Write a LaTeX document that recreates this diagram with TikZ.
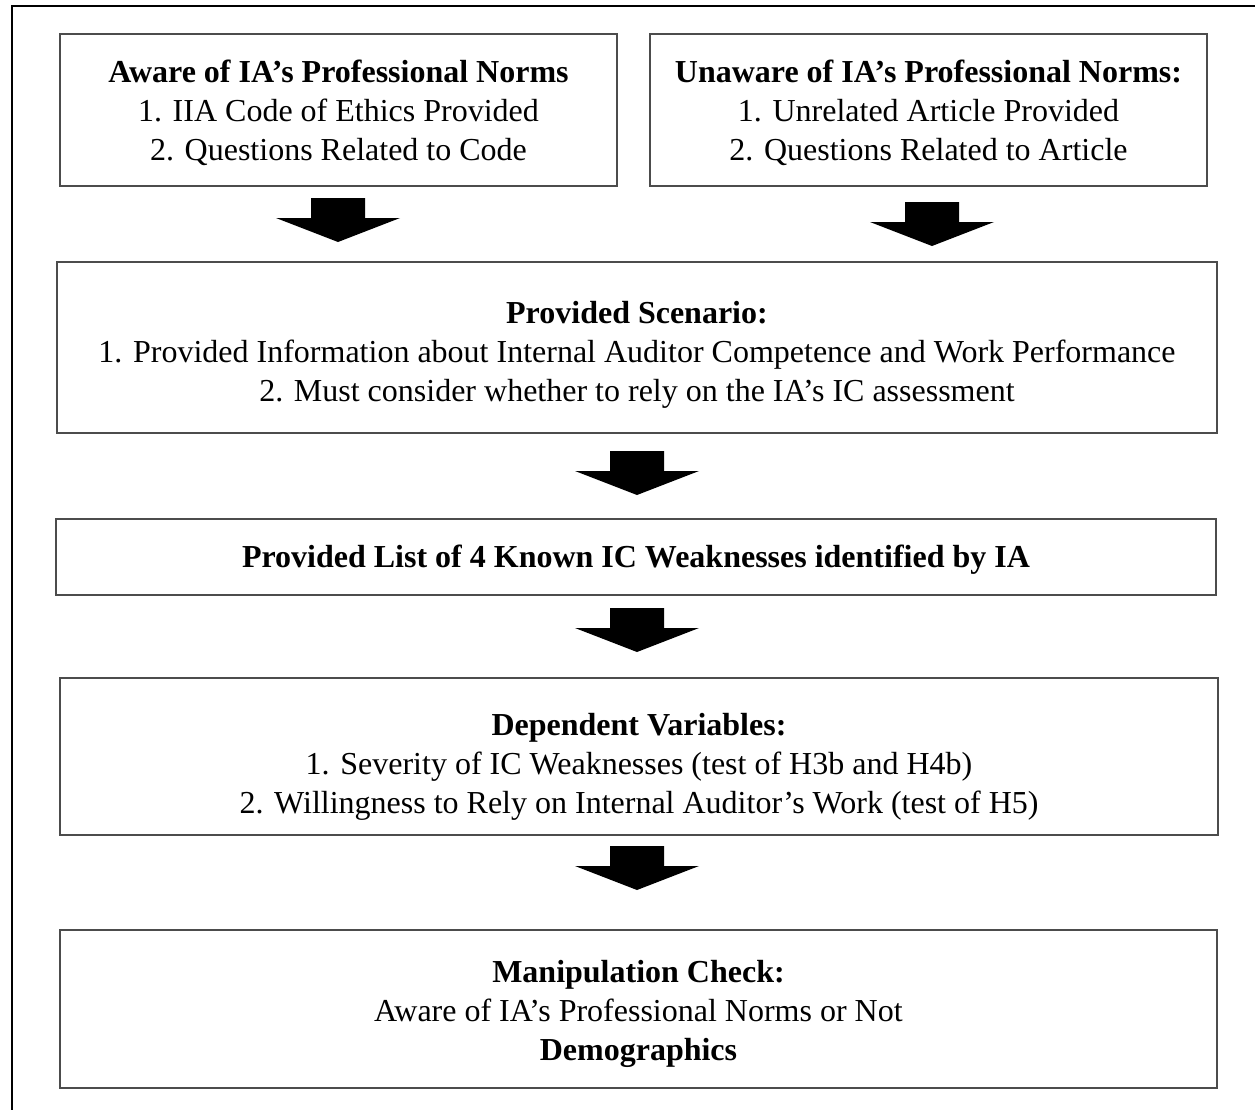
\documentclass[tikz,border=0pt]{standalone}
\usepackage{fontspec}
\setmainfont{Liberation Serif}
\begin{document}
\begin{tikzpicture}[x=0.5pt,y=-0.5pt,
  stagebox/.style={draw=black!70, line width=0.6pt, inner sep=0pt},
  stagetext/.style={align=center, inner sep=0pt,
    font=\fontsize{16pt}{19.5pt}\selectfont},
  blockarrow/.pic={
    \fill (-27,0) -- (27,0) -- (27,20) -- (62,20) -- (0,44) -- (-62,20) -- (-27,20) -- cycle;
  }]
  \useasboundingbox (0,0) rectangle (1255,1110);
  % outer frame (continues past the page on the right and bottom)
  \draw[line width=1.2pt] (12,1130) -- (12,6) -- (1270,6);

  % stage boxes
  \node[stagebox, minimum width=557*0.5pt, minimum height=152*0.5pt] (aware) at (338.5,110) {};
  \node[stagebox, minimum width=557*0.5pt, minimum height=152*0.5pt] (unaware) at (928.5,110) {};
  \node[stagebox, minimum width=1160*0.5pt, minimum height=171*0.5pt] (scenario) at (637,347.5) {};
  \node[stagebox, minimum width=1160*0.5pt, minimum height=76*0.5pt] (list) at (636,557) {};
  \node[stagebox, minimum width=1158*0.5pt, minimum height=157*0.5pt] (depvar) at (639,756.5) {};
  \node[stagebox, minimum width=1157*0.5pt, minimum height=158*0.5pt] (check) at (638.5,1009) {};

  % box contents
  \node[stagetext] (awaretxt) at (338.5,113)
    {\textbf{Aware of IA’s Professional Norms}\\1. IIA Code of Ethics Provided\\2. Questions Related to Code};
  \node[stagetext] (unawaretxt) at (928.5,113)
    {\textbf{Unaware of IA’s Professional Norms:}\\1. Unrelated Article Provided\\2. Questions Related to Article};
  \node[stagetext] (scenariotxt) at (637,355)
    {\textbf{Provided Scenario:}\\1. Provided Information about Internal Auditor Competence and Work Performance\\2. Must consider whether to rely on the IA’s IC assessment};
  \node[stagetext] (listtxt) at (636,560)
    {\textbf{Provided List of 4 Known IC Weaknesses identified by IA}};
  \node[stagetext] (depvartxt) at (639,767)
    {\textbf{Dependent Variables:}\\1. Severity of IC Weaknesses (test of H3b and H4b)\\2. Willingness to Rely on Internal Auditor’s Work (test of H5)};
  \node[stagetext] (checktxt) at (638.5,1014)
    {\textbf{Manipulation Check:}\\Aware of IA’s Professional Norms or Not\\\textbf{Demographics}};

  % block arrows between the stages
  \pic at (338,198) {blockarrow};
  \pic at (932,202) {blockarrow};
  \pic at (637,451) {blockarrow};
  \pic at (637,608) {blockarrow};
  \pic at (637,846) {blockarrow};
\end{tikzpicture}
\end{document}
